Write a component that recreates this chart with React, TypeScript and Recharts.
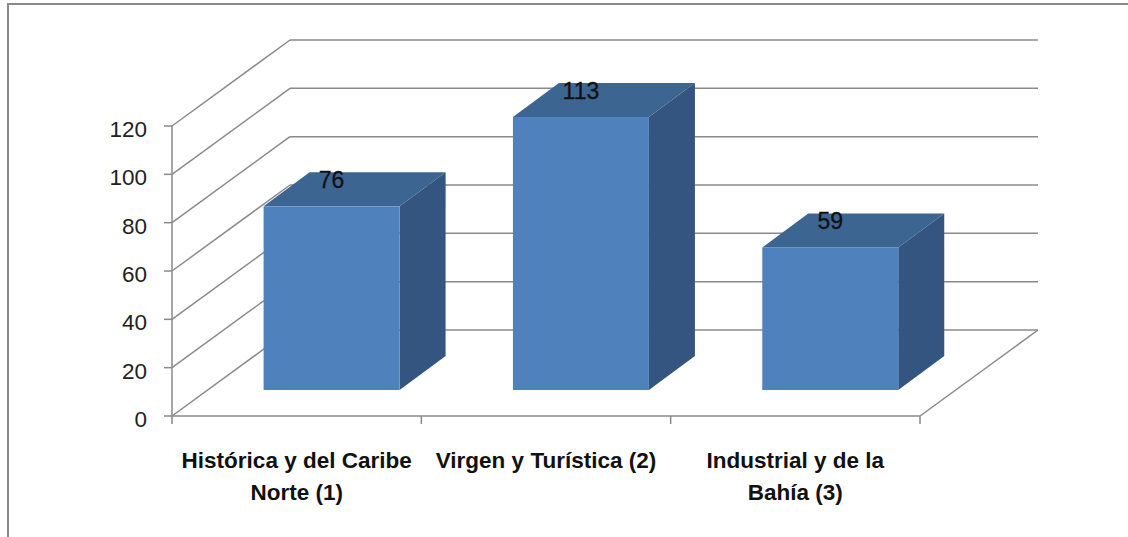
import { BarChart, Bar, XAxis, YAxis, CartesianGrid, LabelList } from 'recharts'

const categories = ['Histórica y del Caribe\nNorte (1)', 'Virgen y Turística (2)', 'Industrial y de la\nBahía (3)']
const values = [76, 113, 59]
const yTicks = [0, 20, 40, 60, 80, 100, 120]

const data = categories.map((name, i) => ({ name, value: values[i] }))

const W = 1128
const H = 537
const Y_AXIS_W = 60
const X_AXIS_H = 80
// plot area (front plane): x 172..920, y 126..416
const margin = { top: 126, right: 208, bottom: 121 - X_AXIS_H, left: 172 - Y_AXIS_W }
const band = (W - 172 - margin.right) / categories.length

// 3d offsets: back wall, bar front face, bar depth
const WALL = { dx: 118, dy: -86 }
const FRONT = { dx: 35, dy: -26 }
const DEPTH = { dx: 46, dy: -34 }

const FONT = "'Liberation Sans', Arial, sans-serif"
const LINE = '#8a8a8a'
const LW = 1.5

function GridLine(props: any) {
  const { x1, y1, x2, y2 } = props
  return (
    <g>
      <line x1={x1} y1={y1} x2={x1 + WALL.dx} y2={y1 + WALL.dy} stroke={LINE} strokeWidth={LW} />
      <line x1={x1 + WALL.dx} y1={y1 + WALL.dy} x2={x2 + WALL.dx} y2={y2 + WALL.dy} stroke={LINE} strokeWidth={LW} />
    </g>
  )
}

function Box(props: any) {
  const { x, y, width, height } = props
  if (!height) return null
  const fx = x + FRONT.dx
  const fy = y + FRONT.dy
  const top = `${fx},${fy} ${fx + width},${fy} ${fx + width + DEPTH.dx},${fy + DEPTH.dy} ${fx + DEPTH.dx},${fy + DEPTH.dy}`
  const side = `${fx + width},${fy} ${fx + width + DEPTH.dx},${fy + DEPTH.dy} ${fx + width + DEPTH.dx},${fy + height + DEPTH.dy} ${fx + width},${fy + height}`
  return (
    <g>
      <polygon points={side} fill="#335580" />
      <polygon points={top} fill="#3d6592" />
      <rect x={fx} y={fy} width={width} height={height} fill="#4f81bd" />
    </g>
  )
}

function ValueLabel(props: any) {
  const { x, y, width, value } = props
  return (
    <text x={x + FRONT.dx + width / 2} y={y + FRONT.dy - 18} textAnchor="middle"
      fontSize={23} fontFamily={FONT} fill="#111" stroke="#111" strokeWidth={0.3}>
      {value}
    </text>
  )
}

function YTick({ x, y, payload }: any) {
  return (
    <text x={x} y={y + 11} textAnchor="end" fontSize={22.5} fontFamily={FONT} fill="#222">
      {payload.value}
    </text>
  )
}

function CategoryTick({ x, y, payload, index }: any) {
  const lines = String(payload.value).split('\n')
  const left = x - band / 2
  const right = x + band / 2
  return (
    <g>
      <line x1={left} y1={y} x2={left} y2={y + 8} stroke={LINE} strokeWidth={LW} />
      {index === categories.length - 1 && (
        <>
          <line x1={right} y1={y} x2={right} y2={y + 8} stroke={LINE} strokeWidth={LW} />
          <line x1={right} y1={y} x2={right + WALL.dx} y2={y + WALL.dy} stroke={LINE} strokeWidth={LW} />
        </>
      )}
      <text textAnchor="middle" fontSize={22.5} fontWeight="bold" fontFamily={FONT} fill="#111">
        {lines.map((l, i) => (
          <tspan key={i} x={x} y={y + 52 + i * 32}>{l}</tspan>
        ))}
      </text>
    </g>
  )
}

export default function App() {
  return (
    <div style={{ position: 'absolute', left: 0, top: 0, width: W, height: H, background: '#fff' }}>
      <div style={{
        position: 'absolute', left: 7, top: 3, width: W - 7, height: H - 3,
        borderTop: '2px solid #8a8a8a', borderLeft: '2px solid #8a8a8a', boxSizing: 'border-box',
      }} />
      <div style={{ position: 'absolute', left: 0, top: 0 }}>
        <BarChart width={W} height={H} data={data} margin={margin} barCategoryGap="22.7%">
          <CartesianGrid vertical={false} horizontal={GridLine} />
          <XAxis dataKey="name" height={X_AXIS_H} interval={0} tickSize={0} tickMargin={0}
            tickLine={false} axisLine={{ stroke: LINE, strokeWidth: LW }} tick={<CategoryTick />} />
          <YAxis width={Y_AXIS_W} domain={[0, 120]} ticks={yTicks} interval={0} tickSize={8} tickMargin={17}
            tickLine={{ stroke: LINE, strokeWidth: LW }} axisLine={{ stroke: LINE, strokeWidth: LW }}
            tick={<YTick />} />
          <Bar dataKey="value" shape={<Box />} isAnimationActive={false}>
            <LabelList dataKey="value" content={<ValueLabel />} />
          </Bar>
        </BarChart>
      </div>
    </div>
  )
}
